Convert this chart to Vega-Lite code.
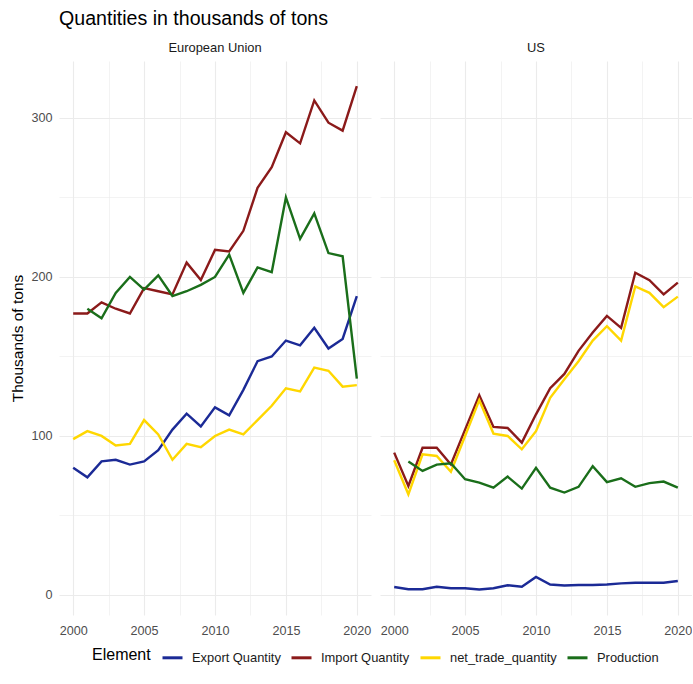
{
  "$schema": "https://vega.github.io/schema/vega-lite/v6.json",
  "padding": {"left": 10, "top": 8, "right": 0, "bottom": 0},
  "title": {"text": "Quantities in thousands of tons", "anchor": "start", "frame": "group", "fontSize": 19.6, "fontWeight": "normal", "font": "Liberation Sans", "color": "#000000", "offset": 13},
  "data": {"values": [
    {"Area":"European Union","Element":"Export Quantity","Year":2000,"Value":80},
    {"Area":"European Union","Element":"Export Quantity","Year":2001,"Value":74},
    {"Area":"European Union","Element":"Export Quantity","Year":2002,"Value":84},
    {"Area":"European Union","Element":"Export Quantity","Year":2003,"Value":85},
    {"Area":"European Union","Element":"Export Quantity","Year":2004,"Value":82},
    {"Area":"European Union","Element":"Export Quantity","Year":2005,"Value":84},
    {"Area":"European Union","Element":"Export Quantity","Year":2006,"Value":91},
    {"Area":"European Union","Element":"Export Quantity","Year":2007,"Value":104},
    {"Area":"European Union","Element":"Export Quantity","Year":2008,"Value":114},
    {"Area":"European Union","Element":"Export Quantity","Year":2009,"Value":106},
    {"Area":"European Union","Element":"Export Quantity","Year":2010,"Value":118},
    {"Area":"European Union","Element":"Export Quantity","Year":2011,"Value":113},
    {"Area":"European Union","Element":"Export Quantity","Year":2012,"Value":129},
    {"Area":"European Union","Element":"Export Quantity","Year":2013,"Value":147},
    {"Area":"European Union","Element":"Export Quantity","Year":2014,"Value":150},
    {"Area":"European Union","Element":"Export Quantity","Year":2015,"Value":160},
    {"Area":"European Union","Element":"Export Quantity","Year":2016,"Value":157},
    {"Area":"European Union","Element":"Export Quantity","Year":2017,"Value":168},
    {"Area":"European Union","Element":"Export Quantity","Year":2018,"Value":155},
    {"Area":"European Union","Element":"Export Quantity","Year":2019,"Value":161},
    {"Area":"European Union","Element":"Export Quantity","Year":2020,"Value":188},
    {"Area":"European Union","Element":"Import Quantity","Year":2000,"Value":177},
    {"Area":"European Union","Element":"Import Quantity","Year":2001,"Value":177},
    {"Area":"European Union","Element":"Import Quantity","Year":2002,"Value":184},
    {"Area":"European Union","Element":"Import Quantity","Year":2003,"Value":180},
    {"Area":"European Union","Element":"Import Quantity","Year":2004,"Value":177},
    {"Area":"European Union","Element":"Import Quantity","Year":2005,"Value":193},
    {"Area":"European Union","Element":"Import Quantity","Year":2006,"Value":191},
    {"Area":"European Union","Element":"Import Quantity","Year":2007,"Value":189},
    {"Area":"European Union","Element":"Import Quantity","Year":2008,"Value":209},
    {"Area":"European Union","Element":"Import Quantity","Year":2009,"Value":198},
    {"Area":"European Union","Element":"Import Quantity","Year":2010,"Value":217},
    {"Area":"European Union","Element":"Import Quantity","Year":2011,"Value":216},
    {"Area":"European Union","Element":"Import Quantity","Year":2012,"Value":229},
    {"Area":"European Union","Element":"Import Quantity","Year":2013,"Value":256},
    {"Area":"European Union","Element":"Import Quantity","Year":2014,"Value":269},
    {"Area":"European Union","Element":"Import Quantity","Year":2015,"Value":291},
    {"Area":"European Union","Element":"Import Quantity","Year":2016,"Value":284},
    {"Area":"European Union","Element":"Import Quantity","Year":2017,"Value":311},
    {"Area":"European Union","Element":"Import Quantity","Year":2018,"Value":297},
    {"Area":"European Union","Element":"Import Quantity","Year":2019,"Value":292},
    {"Area":"European Union","Element":"Import Quantity","Year":2020,"Value":320},
    {"Area":"European Union","Element":"net_trade_quantity","Year":2000,"Value":98},
    {"Area":"European Union","Element":"net_trade_quantity","Year":2001,"Value":103},
    {"Area":"European Union","Element":"net_trade_quantity","Year":2002,"Value":100},
    {"Area":"European Union","Element":"net_trade_quantity","Year":2003,"Value":94},
    {"Area":"European Union","Element":"net_trade_quantity","Year":2004,"Value":95},
    {"Area":"European Union","Element":"net_trade_quantity","Year":2005,"Value":110},
    {"Area":"European Union","Element":"net_trade_quantity","Year":2006,"Value":101},
    {"Area":"European Union","Element":"net_trade_quantity","Year":2007,"Value":85},
    {"Area":"European Union","Element":"net_trade_quantity","Year":2008,"Value":95},
    {"Area":"European Union","Element":"net_trade_quantity","Year":2009,"Value":93},
    {"Area":"European Union","Element":"net_trade_quantity","Year":2010,"Value":100},
    {"Area":"European Union","Element":"net_trade_quantity","Year":2011,"Value":104},
    {"Area":"European Union","Element":"net_trade_quantity","Year":2012,"Value":101},
    {"Area":"European Union","Element":"net_trade_quantity","Year":2013,"Value":110},
    {"Area":"European Union","Element":"net_trade_quantity","Year":2014,"Value":119},
    {"Area":"European Union","Element":"net_trade_quantity","Year":2015,"Value":130},
    {"Area":"European Union","Element":"net_trade_quantity","Year":2016,"Value":128},
    {"Area":"European Union","Element":"net_trade_quantity","Year":2017,"Value":143},
    {"Area":"European Union","Element":"net_trade_quantity","Year":2018,"Value":141},
    {"Area":"European Union","Element":"net_trade_quantity","Year":2019,"Value":131},
    {"Area":"European Union","Element":"net_trade_quantity","Year":2020,"Value":132},
    {"Area":"European Union","Element":"Production","Year":2001,"Value":180},
    {"Area":"European Union","Element":"Production","Year":2002,"Value":174},
    {"Area":"European Union","Element":"Production","Year":2003,"Value":190},
    {"Area":"European Union","Element":"Production","Year":2004,"Value":200},
    {"Area":"European Union","Element":"Production","Year":2005,"Value":192},
    {"Area":"European Union","Element":"Production","Year":2006,"Value":201},
    {"Area":"European Union","Element":"Production","Year":2007,"Value":188},
    {"Area":"European Union","Element":"Production","Year":2008,"Value":191},
    {"Area":"European Union","Element":"Production","Year":2009,"Value":195},
    {"Area":"European Union","Element":"Production","Year":2010,"Value":200},
    {"Area":"European Union","Element":"Production","Year":2011,"Value":214},
    {"Area":"European Union","Element":"Production","Year":2012,"Value":190},
    {"Area":"European Union","Element":"Production","Year":2013,"Value":206},
    {"Area":"European Union","Element":"Production","Year":2014,"Value":203},
    {"Area":"European Union","Element":"Production","Year":2015,"Value":250},
    {"Area":"European Union","Element":"Production","Year":2016,"Value":224},
    {"Area":"European Union","Element":"Production","Year":2017,"Value":240},
    {"Area":"European Union","Element":"Production","Year":2018,"Value":215},
    {"Area":"European Union","Element":"Production","Year":2019,"Value":213},
    {"Area":"European Union","Element":"Production","Year":2020,"Value":136},
    {"Area":"US","Element":"Export Quantity","Year":2000,"Value":5},
    {"Area":"US","Element":"Export Quantity","Year":2001,"Value":3.6},
    {"Area":"US","Element":"Export Quantity","Year":2002,"Value":3.6},
    {"Area":"US","Element":"Export Quantity","Year":2003,"Value":5.2},
    {"Area":"US","Element":"Export Quantity","Year":2004,"Value":4.2},
    {"Area":"US","Element":"Export Quantity","Year":2005,"Value":4.2},
    {"Area":"US","Element":"Export Quantity","Year":2006,"Value":3.4},
    {"Area":"US","Element":"Export Quantity","Year":2007,"Value":4.2},
    {"Area":"US","Element":"Export Quantity","Year":2008,"Value":6.1},
    {"Area":"US","Element":"Export Quantity","Year":2009,"Value":5.2},
    {"Area":"US","Element":"Export Quantity","Year":2010,"Value":11.3},
    {"Area":"US","Element":"Export Quantity","Year":2011,"Value":6.6},
    {"Area":"US","Element":"Export Quantity","Year":2012,"Value":6},
    {"Area":"US","Element":"Export Quantity","Year":2013,"Value":6.3},
    {"Area":"US","Element":"Export Quantity","Year":2014,"Value":6.3},
    {"Area":"US","Element":"Export Quantity","Year":2015,"Value":6.6},
    {"Area":"US","Element":"Export Quantity","Year":2016,"Value":7.3},
    {"Area":"US","Element":"Export Quantity","Year":2017,"Value":7.7},
    {"Area":"US","Element":"Export Quantity","Year":2018,"Value":7.7},
    {"Area":"US","Element":"Export Quantity","Year":2019,"Value":7.7},
    {"Area":"US","Element":"Export Quantity","Year":2020,"Value":8.8},
    {"Area":"US","Element":"Import Quantity","Year":2000,"Value":89.5},
    {"Area":"US","Element":"Import Quantity","Year":2001,"Value":68.5},
    {"Area":"US","Element":"Import Quantity","Year":2002,"Value":92.6},
    {"Area":"US","Element":"Import Quantity","Year":2003,"Value":92.6},
    {"Area":"US","Element":"Import Quantity","Year":2004,"Value":82},
    {"Area":"US","Element":"Import Quantity","Year":2005,"Value":104},
    {"Area":"US","Element":"Import Quantity","Year":2006,"Value":125.6},
    {"Area":"US","Element":"Import Quantity","Year":2007,"Value":105.7},
    {"Area":"US","Element":"Import Quantity","Year":2008,"Value":105},
    {"Area":"US","Element":"Import Quantity","Year":2009,"Value":95.8},
    {"Area":"US","Element":"Import Quantity","Year":2010,"Value":113.6},
    {"Area":"US","Element":"Import Quantity","Year":2011,"Value":130},
    {"Area":"US","Element":"Import Quantity","Year":2012,"Value":139},
    {"Area":"US","Element":"Import Quantity","Year":2013,"Value":153.5},
    {"Area":"US","Element":"Import Quantity","Year":2014,"Value":165},
    {"Area":"US","Element":"Import Quantity","Year":2015,"Value":175.5},
    {"Area":"US","Element":"Import Quantity","Year":2016,"Value":168},
    {"Area":"US","Element":"Import Quantity","Year":2017,"Value":202.7},
    {"Area":"US","Element":"Import Quantity","Year":2018,"Value":198},
    {"Area":"US","Element":"Import Quantity","Year":2019,"Value":189},
    {"Area":"US","Element":"Import Quantity","Year":2020,"Value":196.4},
    {"Area":"US","Element":"net_trade_quantity","Year":2000,"Value":84.7},
    {"Area":"US","Element":"net_trade_quantity","Year":2001,"Value":63.3},
    {"Area":"US","Element":"net_trade_quantity","Year":2002,"Value":88.5},
    {"Area":"US","Element":"net_trade_quantity","Year":2003,"Value":87.4},
    {"Area":"US","Element":"net_trade_quantity","Year":2004,"Value":77.5},
    {"Area":"US","Element":"net_trade_quantity","Year":2005,"Value":100},
    {"Area":"US","Element":"net_trade_quantity","Year":2006,"Value":122.5},
    {"Area":"US","Element":"net_trade_quantity","Year":2007,"Value":101.5},
    {"Area":"US","Element":"net_trade_quantity","Year":2008,"Value":100},
    {"Area":"US","Element":"net_trade_quantity","Year":2009,"Value":91.6},
    {"Area":"US","Element":"net_trade_quantity","Year":2010,"Value":103},
    {"Area":"US","Element":"net_trade_quantity","Year":2011,"Value":124},
    {"Area":"US","Element":"net_trade_quantity","Year":2012,"Value":135.7},
    {"Area":"US","Element":"net_trade_quantity","Year":2013,"Value":147},
    {"Area":"US","Element":"net_trade_quantity","Year":2014,"Value":160},
    {"Area":"US","Element":"net_trade_quantity","Year":2015,"Value":169},
    {"Area":"US","Element":"net_trade_quantity","Year":2016,"Value":160},
    {"Area":"US","Element":"net_trade_quantity","Year":2017,"Value":194},
    {"Area":"US","Element":"net_trade_quantity","Year":2018,"Value":190},
    {"Area":"US","Element":"net_trade_quantity","Year":2019,"Value":181},
    {"Area":"US","Element":"net_trade_quantity","Year":2020,"Value":187.6},
    {"Area":"US","Element":"Production","Year":2001,"Value":83.9},
    {"Area":"US","Element":"Production","Year":2002,"Value":78},
    {"Area":"US","Element":"Production","Year":2003,"Value":82},
    {"Area":"US","Element":"Production","Year":2004,"Value":82.8},
    {"Area":"US","Element":"Production","Year":2005,"Value":72.8},
    {"Area":"US","Element":"Production","Year":2006,"Value":70.6},
    {"Area":"US","Element":"Production","Year":2007,"Value":67.5},
    {"Area":"US","Element":"Production","Year":2008,"Value":74.4},
    {"Area":"US","Element":"Production","Year":2009,"Value":66.9},
    {"Area":"US","Element":"Production","Year":2010,"Value":80},
    {"Area":"US","Element":"Production","Year":2011,"Value":67.5},
    {"Area":"US","Element":"Production","Year":2012,"Value":64.4},
    {"Area":"US","Element":"Production","Year":2013,"Value":68},
    {"Area":"US","Element":"Production","Year":2014,"Value":81},
    {"Area":"US","Element":"Production","Year":2015,"Value":71},
    {"Area":"US","Element":"Production","Year":2016,"Value":73.4},
    {"Area":"US","Element":"Production","Year":2017,"Value":68},
    {"Area":"US","Element":"Production","Year":2018,"Value":70.3},
    {"Area":"US","Element":"Production","Year":2019,"Value":71.3},
    {"Area":"US","Element":"Production","Year":2020,"Value":67.5}
  ]},
  "facet": {"column": {"field": "Area", "type": "nominal", "header": {"title": null, "labelFontSize": 12.9, "labelColor": "#1a1a1a", "labelFont": "Liberation Sans", "labelPadding": 6}}},
  "spacing": {"column": 9},
  "spec": {
    "width": 312,
    "height": 554,
    "mark": {"type": "line", "strokeWidth": 2.4},
    "encoding": {
      "x": {"field": "Year", "type": "quantitative", "scale": {"domain": [1999, 2021], "nice": false, "zero": false},
        "axis": {"title": null, "values": [2000, 2002.5, 2005, 2007.5, 2010, 2012.5, 2015, 2017.5, 2020], "labelExpr": "datum.value % 5 === 0 ? format(datum.value, 'd') : ''", "labelPadding": 9,
          "gridWidth": {"condition": {"test": "datum.value % 5 === 0", "value": 1.1}, "value": 0.6}}},
      "y": {"field": "Value", "type": "quantitative", "scale": {"domain": [-12.6, 335.8], "nice": false, "zero": false},
        "axis": {"title": "Thousands of tons", "values": [0, 50, 100, 150, 200, 250, 300], "labelExpr": "datum.value % 100 === 0 ? datum.label : ''",
          "gridWidth": {"condition": {"test": "datum.value % 100 === 0", "value": 1.1}, "value": 0.6}}},
      "color": {"field": "Element", "type": "nominal",
        "scale": {"domain": ["Export Quantity", "Import Quantity", "net_trade_quantity", "Production"], "range": ["#1b2a96", "#8b1a1a", "#ffd700", "#1a6e1a"]},
        "legend": {"orient": "none", "legendX": 33, "legendY": 585, "direction": "horizontal", "titleOrient": "left", "titleBaseline": "middle", "title": "Element"}}
    }
  },
  "config": {
    "view": {"stroke": null},
    "font": "Liberation Sans",
    "axis": {"domain": false, "ticks": false, "tickSize": 0, "gridColor": "#ebebeb", "labelColor": "#4d4d4d", "labelFontSize": 12.6, "labelFont": "Liberation Sans", "labelPadding": 7, "titleFontSize": 15.5, "titleFontWeight": "normal", "titleColor": "#000000", "titleFont": "Liberation Sans", "titlePadding": 5, "labelFlush": false},
    "legend": {"symbolType": "stroke", "symbolSize": 400, "symbolStrokeWidth": 3, "labelFontSize": 12.9, "labelColor": "#1a1a1a", "labelFont": "Liberation Sans", "titleFontSize": 16, "titleFontWeight": "normal", "titleColor": "#000000", "titleFont": "Liberation Sans", "columnPadding": 4, "labelOffset": 8, "titlePadding": 10}
  }
}
